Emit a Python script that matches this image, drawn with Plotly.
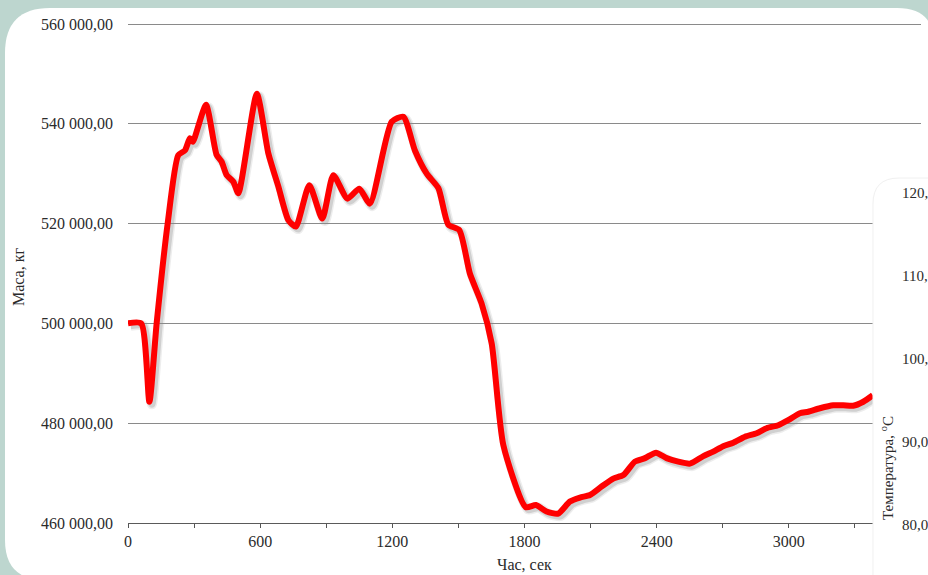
import plotly.graph_objects as go

# Mass of the load over time (seconds -> kg)
time_s = [0, 60, 97, 130, 180, 228, 259, 281, 294, 354, 402, 425, 448, 478, 501,
          585, 637, 682, 728, 762, 823, 882, 932, 996, 1050, 1098, 1197, 1250,
          1303, 1356, 1409, 1454, 1504, 1552, 1605, 1651, 1704, 1805, 1852, 1900,
          1953, 2006, 2052, 2097, 2150, 2203, 2249, 2301, 2347, 2397, 2445, 2498,
          2551, 2612, 2657, 2702, 2748, 2801, 2854, 2899, 2952, 2997, 3050, 3088,
          3141, 3202, 3247, 3292, 3338, 3381]
mass_kg = [500000, 500000, 484300, 500000, 520000, 533700, 534700, 537100, 536400,
           543800, 533800, 532400, 529700, 528400, 526100, 546000, 534100, 527500,
           520700, 519400, 527700, 521000, 529700, 525000, 527000, 524000, 540400,
           541400, 534600, 530000, 527100, 519800, 518700, 510000, 504000, 496000,
           475600, 463200, 463600, 462300, 461900, 464300, 465100, 465600, 467300,
           468900, 469600, 472300, 473000, 474100, 473000, 472300, 471900, 473400,
           474300, 475400, 476100, 477300, 478000, 479000, 479600, 480600, 482000,
           482300, 483000, 483600, 483600, 483500, 484300, 485600]

mass_ticks = [460000, 480000, 500000, 520000, 540000, 560000]
time_ticks = [0, 600, 1200, 1800, 2400, 3000, 3600]
temp_ticks = [80, 90, 100, 110, 120]

W, H = 928, 575
BG = "#bdd6cf"
FONT = "Liberation Serif"
TXT = "#2b2b2b"


def px(x):
    return x / W


def py(y):
    return 1 - y / H


def rounded_path(x0, y0, x1, y1, r_tl, r_tr, r_br, r_bl):
    """Rounded rectangle in pixel units, emitted in paper coordinates."""
    pts = [
        ("M", [(x0, y0 + r_tl)]),
        ("Q", [(x0, y0), (x0 + r_tl, y0)]),
        ("L", [(x1 - r_tr, y0)]),
        ("Q", [(x1, y0), (x1, y0 + r_tr)]),
        ("L", [(x1, y1 - r_br)]),
        ("Q", [(x1, y1), (x1 - r_br, y1)]),
        ("L", [(x0 + r_bl, y1)]),
        ("Q", [(x0, y1), (x0, y1 - r_bl)]),
    ]
    out = []
    for cmd, coords in pts:
        out.append(cmd + " " + " ".join(f"{px(a):.5f},{py(b):.5f}" for a, b in coords))
    return " ".join(out) + " Z"


def fmt_mass(v):
    return f"{v:,.2f}".replace(",", " ").replace(".", ",")


def fmt_temp(v):
    return f"{v:.2f}".replace(".", ",")


# plot area in pixels: 460 000 sits on B, 560 000 on T
L, R, T, B = 128, 921, 24, 523
pad = 3  # a little headroom so the top grid line is kept
kg_per_px = (mass_ticks[-1] - mass_ticks[0]) / (B - T)
x_range = [0, 3600]
y_range = [mass_ticks[0], mass_ticks[-1] + pad * kg_per_px]
dom_x = [px(L), px(R)]
dom_y = [py(B), py(T - pad)]
sh = 2.5  # drop-shadow offset, px

fig = go.Figure()

# soft drop shadow under the curve (own, slightly offset axes)
for w, a in [(10, 0.07), (7, 0.12)]:
    fig.add_trace(go.Scatter(
        x=time_s, y=mass_kg, mode="lines", xaxis="x", yaxis="y",
        line=dict(color=f"rgba(0,0,0,{a})", width=w, shape="spline", smoothing=0.6),
        hoverinfo="skip", showlegend=False))

# the mass curve
fig.add_trace(go.Scatter(
    x=time_s, y=mass_kg, mode="lines", xaxis="x2", yaxis="y2",
    line=dict(color="#ff0000", width=6, shape="spline", smoothing=0.6),
    showlegend=False))

hidden = dict(visible=False, fixedrange=True, automargin=False)
fig.update_layout(
    width=W, height=H,
    margin=dict(l=0, r=0, t=0, b=0, pad=0, autoexpand=False),
    paper_bgcolor=BG,
    plot_bgcolor="rgba(0,0,0,0)",
    font=dict(family=FONT, size=16, color=TXT),
    xaxis=dict(hidden, domain=[px(L + sh), px(R + sh)], range=x_range, anchor="y"),
    yaxis=dict(hidden, domain=[py(B + sh), py(T - pad + sh)], range=y_range, anchor="x"),
    xaxis2=dict(
        domain=dom_x, range=x_range, anchor="y2", automargin=False,
        tickvals=time_ticks, ticktext=[str(t) for t in time_ticks],
        ticks="outside", ticklen=4, tickcolor="#555555", tickwidth=1,
        minor=dict(dtick=300, tick0=0, ticks="outside", ticklen=4,
                   tickcolor="#555555", tickwidth=1),
        showline=True, linecolor="#5a5a5a", linewidth=1.3,
        showgrid=False, zeroline=False,
        tickfont=dict(family=FONT, size=16, color=TXT),
    ),
    yaxis2=dict(
        domain=dom_y, range=y_range, anchor="x2", automargin=False,
        tickvals=mass_ticks, ticktext=[fmt_mass(v) for v in mass_ticks],
        ticks="", showline=False, zeroline=False,
        showgrid=True, gridcolor="#8a8a8a", gridwidth=1,
        ticklabelstandoff=14,
        tickfont=dict(family=FONT, size=16, color=TXT),
    ),
)

shapes = [
    # main white card
    dict(type="path", layer="below", xref="paper", yref="paper",
         path=rounded_path(5, 8, 935, 580, 45, 38, 10, 40),
         fillcolor="white", line=dict(width=0)),
    # second card overlapping the right side
    dict(type="path", layer="above", xref="paper", yref="paper",
         path=rounded_path(873, 178, 960, 600, 26, 0, 0, 0),
         fillcolor="white", line=dict(color="#f0f0f0", width=1)),
]
fig.update_layout(shapes=shapes)

centered = dict(xref="paper", yref="paper", showarrow=False,
                xanchor="center", yanchor="middle")
annotations = [
    dict(centered, text="Маса, кг", textangle=-90, x=px(18), y=py(277),
         font=dict(family=FONT, size=16, color=TXT)),
    dict(centered, text="Час, сек", x=px(524), y=py(564),
         font=dict(family=FONT, size=16, color=TXT)),
    dict(centered, text="Температура, <sup>o</sup>С", textangle=-90,
         x=px(887), y=py(468), font=dict(family=FONT, size=15, color=TXT)),
]

# temperature scale of the second card: 80 -> 525 px, 120 -> 193 px
t_lo, t_hi, p_lo, p_hi = 80, 120, 525, 193
for t in temp_ticks:
    ypix = p_lo + (t - t_lo) * (p_hi - p_lo) / (t_hi - t_lo)
    annotations.append(dict(
        centered, text=fmt_temp(t), x=px(900), y=py(ypix), xanchor="left",
        font=dict(family=FONT, size=15, color=TXT)))
fig.update_layout(annotations=annotations)

fig.write_html("out.html")
